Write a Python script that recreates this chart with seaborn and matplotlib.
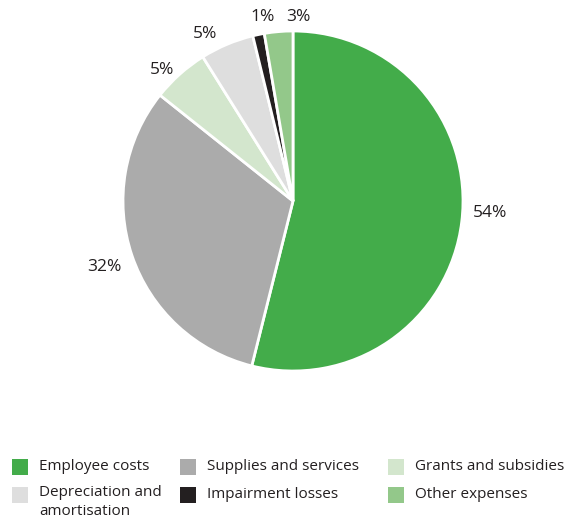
import matplotlib
matplotlib.use("Agg")
import matplotlib.pyplot as plt
import seaborn as sns
from matplotlib.patches import Rectangle

categories = ["Employee costs", "Supplies and services", "Grants and subsidies",
              "Depreciation and\namortisation", "Impairment losses", "Other expenses"]
values = [53.9, 31.8, 5.4, 5.1, 1.1, 2.7]
colors = ["#43AC4A", "#ABABAB", "#D3E6CD", "#DEDEDE", "#231F20", "#93C88A"]

sns.set_theme(style="white")
plt.rcParams['font.family'] = ['Open Sans', 'DejaVu Sans']
TXT = "#231F20"

W, H = 574, 524
fig = plt.figure(figsize=(W / 100, H / 100), dpi=100)
cx, cy, r = 293, 201, 170
ax = fig.add_axes([(cx - r) / W, (H - cy - r) / H, 2 * r / W, 2 * r / H])
wedges, texts = ax.pie(values, colors=colors, startangle=90, counterclock=False,
                       labels=[f"{round(v)}%" for v in values], labeldistance=1.13,
                       wedgeprops=dict(edgecolor="white", linewidth=2),
                       textprops=dict(fontsize=12.5, color=TXT))
# label placement (in pie radius units)
label_pos = [(1.16, -0.07), (-1.11, -0.39), (-0.77, 0.77),
             (-0.52, 0.98), (-0.18, 1.08), (0.03, 1.08)]
for t, p in zip(texts, label_pos):
    t.set_position(p)
    t.set_horizontalalignment("center")
    t.set_verticalalignment("center")
ax.set_xlim(-1, 1)
ax.set_ylim(-1, 1)
ax.set_aspect("equal")
ax.axis("off")

# legend laid out in three columns
col_x = [12, 180, 388]
row_y = [467, 495]
for i, (lab, c) in enumerate(zip(categories, colors)):
    col = i % 3
    row = i // 3
    x = col_x[col]
    y = row_y[row]
    fig.patches.append(Rectangle((x / W, (H - y - 8) / H), 16 / W, 16 / H,
                                 transform=fig.transFigure, facecolor=c,
                                 edgecolor="none"))
    if "\n" in lab:
        fig.text((x + 27) / W, (H - y + 10) / H, lab, fontsize=11, color=TXT,
                 va="top", ha="left", linespacing=1.4)
    else:
        fig.text((x + 27) / W, (H - y) / H, lab, fontsize=11, color=TXT,
                 va="center", ha="left")

fig.savefig("out.png", dpi=100)
